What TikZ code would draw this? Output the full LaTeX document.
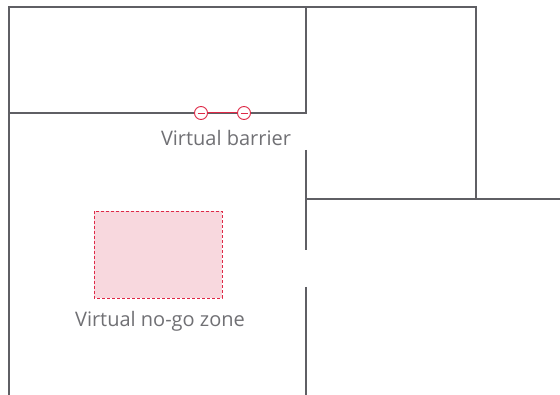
\documentclass[tikz,border=0pt]{standalone}
\usepackage{fontspec}
\setmainfont{Open Sans}
\definecolor{wallgray}{RGB}{95,95,100}
\definecolor{textgray}{RGB}{112,112,116}
\definecolor{zonered}{RGB}{222,40,70}
\definecolor{zonepink}{RGB}{248,216,222}
\tikzset{
    wall/.style={draw=wallgray, line width=1.2pt},
    endmark/.style={circle, draw=zonered, fill=white, line width=0.9pt, minimum size=13pt, inner sep=0pt},
    caption/.style={text=textgray, font=\fontsize{20}{24}\selectfont}
}
\begin{document}
\begin{tikzpicture}[x=1pt,y=-1pt]
            \useasboundingbox (0,0) rectangle (560,395);
            % Walls
            \draw[wall] (9,395) -- (9,7) -- (476,7) -- (476,199);
            \draw[wall] (9,113) -- (306,113) -- (306,7);
            \draw[wall] (306,150) -- (306,250);
            \draw[wall] (306,287) -- (306,395);
            \draw[wall] (306,199) -- (560,199);

            % No-go zone
            \draw[zonered, line width=0.8pt, dash pattern=on 3pt off 2pt, fill=zonepink] (94,211) rectangle (222,298);
            \node[caption] (zonelabel) at (160,321) {Virtual no-go zone};

            % Barrier
            \node[endmark] (barA) at (201,113) {};
            \node[endmark] (barB) at (244,113) {};
            \draw[zonered, line width=1pt] (barA) -- (barB);
            \foreach \m in {barA,barB}
                \draw[zonered, line width=0.9pt] ([xshift=-3.5pt]\m.center) -- ([xshift=3.5pt]\m.center);
            \node[caption] (barlabel) at (226,138) {Virtual barrier};
        \end{tikzpicture}
\end{document}
